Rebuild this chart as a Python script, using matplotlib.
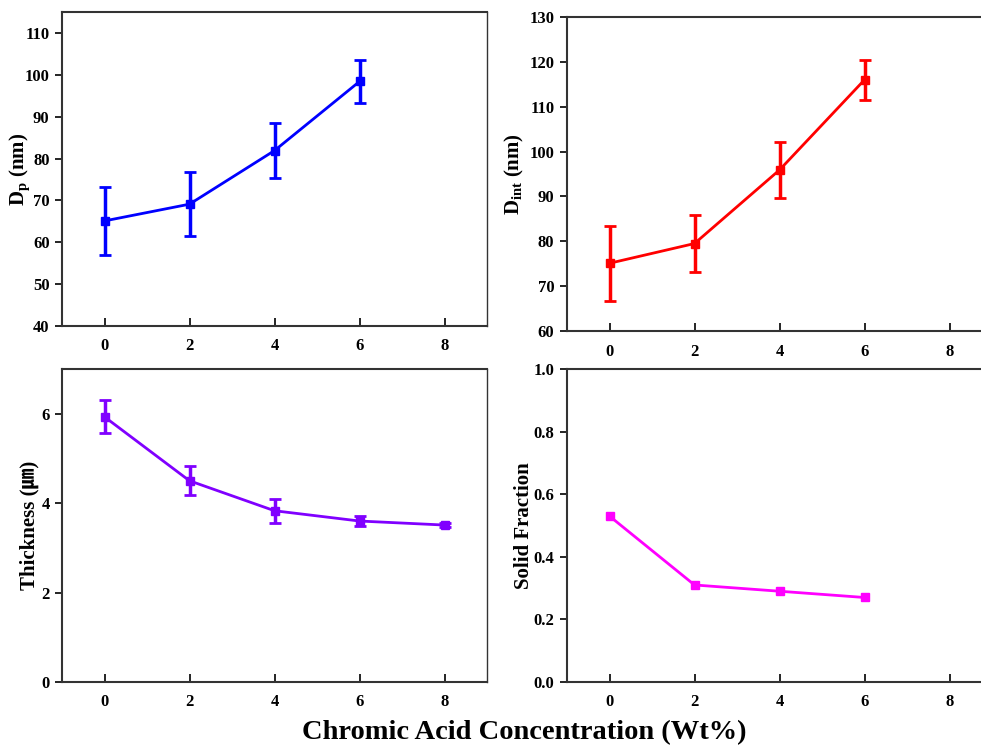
import matplotlib
matplotlib.use("Agg")
import matplotlib.pyplot as plt

plt.rcParams.update({"font.family": ["Liberation Serif", "Noto Sans CJK JP"], "font.weight": "bold",
    "mathtext.fontset": "custom", "mathtext.rm": "Liberation Serif:bold",
    "mathtext.it": "Liberation Serif:bold", "mathtext.bf": "Liberation Serif:bold",
    "axes.edgecolor": "#333333", "axes.linewidth": 1.5})

# data
conc = [0, 2, 4, 6, 8]
dp = [65.1, 69.1, 81.9, 98.4]
dp_err = [8.2, 7.7, 6.5, 5.2]
dint = [75.1, 79.5, 95.9, 116.0]
dint_err = [8.4, 6.4, 6.3, 4.5]
thick = [5.93, 4.50, 3.83, 3.60, 3.51]
thick_err = [0.37, 0.32, 0.27, 0.11, 0.04]
solid = [0.53, 0.31, 0.29, 0.27]

W, H = 981, 751
fig = plt.figure(figsize=(W / 100, H / 100), dpi=100)

def axes_px(left, top, width, bottom):
    return fig.add_axes([left / W, (H - bottom) / H, width / W, (bottom - top) / H])

def style(ax, ylim, yticks, ylabel, yfmt, labx):
    ax.set_xlim(-1, 9); ax.set_ylim(*ylim)
    ax.set_xticks(conc); ax.set_yticks(yticks)
    ax.set_yticklabels([yfmt.format(v) for v in yticks])
    ax.tick_params(axis="x", direction="in", length=6, width=1.2, labelsize=12, pad=9)
    ax.tick_params(axis="y", direction="out", length=5, width=1.2, labelsize=12, pad=4)
    for lab in ax.get_xticklabels() + ax.get_yticklabels():
        lab.set_fontweight("bold")
    ax.spines["right"].set_linewidth(1.0)
    ax.set_ylabel(ylabel, fontsize=15, fontweight="bold", va="center")
    # label centre, figure pixels -> axes fraction
    x0 = ax.get_position().x0 * W
    ax.yaxis.set_label_coords((labx - x0) / (ax.get_position().width * W), 0.5)

kw = dict(marker="s", ms=6, lw=2, elinewidth=2.5, capsize=4, capthick=2)

ax = axes_px(62, 12, 425, 326)
ax.errorbar(conc[:4], dp, yerr=dp_err, color="#0000FF", **kw)
style(ax, (40, 115), range(40, 111, 10), "D$_{\\mathrm{p}}$ (nm)", "{:d}", 20)

ax = axes_px(567, 17, 425, 331)
ax.errorbar(conc[:4], dint, yerr=dint_err, color="#FF0000", **kw)
style(ax, (60, 130), range(60, 131, 10), "D$_{\\mathrm{int}}$ (nm)", "{:d}", 514)

ax = axes_px(62, 369, 425, 682)
ax.errorbar(conc, thick, yerr=thick_err, color="#8000FF", **kw)
style(ax, (0, 7), range(0, 7, 2), "Thickness (㎛)", "{:d}", 29)

ax = axes_px(567, 369, 425, 682)
ax.plot(conc[:4], solid, color="#FF00FF", marker="s", ms=6, lw=2)
style(ax, (0, 1), [0.0, 0.2, 0.4, 0.6, 0.8, 1.0], "Solid Fraction", "{:.1f}", 524)

fig.text(524 / W, 1 - 733 / H, "Chromic Acid Concentration (Wt%)", ha="center", va="center",
         fontsize=20.5, fontweight="bold")

fig.savefig("out.png", dpi=100)
